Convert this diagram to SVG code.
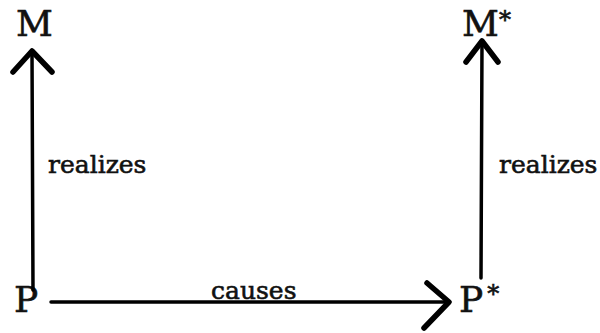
<svg xmlns="http://www.w3.org/2000/svg" width="600" height="333" viewBox="0 0 600 333">
<style>
.lbl{font-family:"DejaVu Serif","Liberation Serif",serif;fill:#111;stroke:#111;stroke-width:0.6}
.big{font-size:36px}
.sm{font-size:25px}
.ln{stroke:#000;stroke-width:3.5;fill:none;stroke-linecap:round}
.hd{stroke:#000;stroke-width:5.5;fill:none;stroke-linecap:round;stroke-linejoin:round}
</style>
<rect width="600" height="333" fill="#fff"/>
<g id="M"><text class="lbl big" x="16" y="36">M</text></g>
<g id="Mstar"><text class="lbl big" x="462" y="36">M<tspan font-size="24" dy="-8">*</tspan></text></g>
<g id="P"><text class="lbl big" x="14" y="312">P</text></g>
<g id="Pstar"><text class="lbl big" x="459" y="312">P<tspan font-size="24" dx="4" dy="-10">*</tspan></text></g>
<g id="connectors">
<line class="ln" x1="32" y1="52" x2="33" y2="290"/>
<polyline class="hd" points="13,72 32,51 52,72"/>
<text class="lbl sm" x="48" y="173">realizes</text>
<line class="ln" x1="481" y1="278" x2="482" y2="42"/>
<polyline class="hd" points="466,62 482,41 498,62"/>
<text class="lbl sm" x="499" y="173">realizes</text>
<line class="ln" x1="51" y1="302" x2="448" y2="302"/>
<polyline class="hd" points="427,283 449,302 424,328"/>
<text class="lbl sm" x="211" y="299">causes</text>
</g>
</svg>
